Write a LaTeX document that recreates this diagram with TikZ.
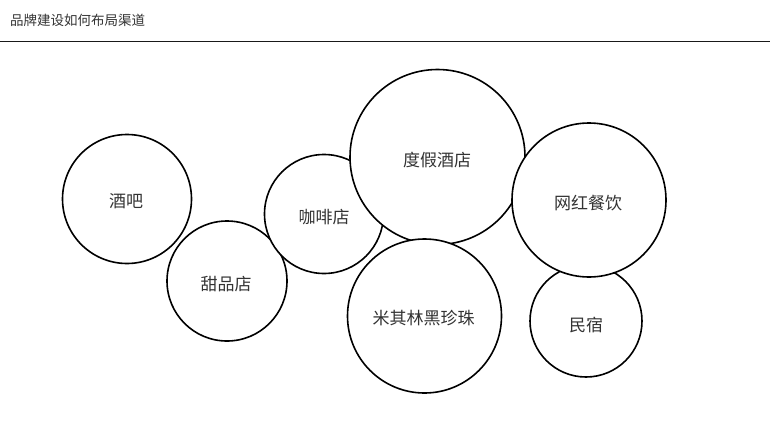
\documentclass[tikz,border=0pt]{standalone}
\usepackage{fontspec}
\setmainfont{Noto Sans CJK SC}
\newfontfamily\cjk{Noto Sans CJK SC}
\definecolor{txt}{HTML}{333333}
\begin{document}
\begin{tikzpicture}[x=1pt,y=-1pt,
  bubble/.style={circle,draw=black,fill=white,line width=1.6pt,inner sep=0pt},
  lbl/.style={font=\cjk\fontsize{17}{17}\selectfont,text=txt,inner sep=0pt},
  ttl/.style={font=\cjk\fontsize{13.5}{14}\selectfont,text=txt,inner sep=0pt,anchor=west}]
\useasboundingbox (0,0) rectangle (770,434);
\fill[white] (0,0) rectangle (770,434);
\node[ttl] (title) at (10,20) {品牌建设如何布局渠道};
\coordinate (l1) at (0,41.5);
\coordinate (l2) at (770,41.5);
\draw[line width=1.3pt,color=black!90] (l1) -- (l2);
\node[bubble,minimum size=129pt] (jiuba) at (127,199) {};
\node[bubble,minimum size=120pt] (tianpin) at (227,281) {};
\node[bubble,minimum size=119pt] (kafei) at (324,214) {};
\node[bubble,minimum size=175pt] (dujia) at (437.5,157) {};
\node[bubble,minimum size=154pt] (milin) at (424.5,316) {};
\node[bubble,minimum size=112pt] (minsu) at (586,321) {};
\node[bubble,minimum size=154pt] (wanghong) at (589,200) {};
\node[lbl] (t1) at (126,201) {酒吧};
\node[lbl] (t2) at (226,284) {甜品店};
\node[lbl] (t3) at (324,217) {咖啡店};
\node[lbl] (t4) at (437,160.5) {度假酒店};
\node[lbl] (t5) at (423.5,318.5) {米其林黑珍珠};
\node[lbl] (t6) at (586,325) {民宿};
\node[lbl] (t7) at (588,203) {网红餐饮};
\end{tikzpicture}
\end{document}
